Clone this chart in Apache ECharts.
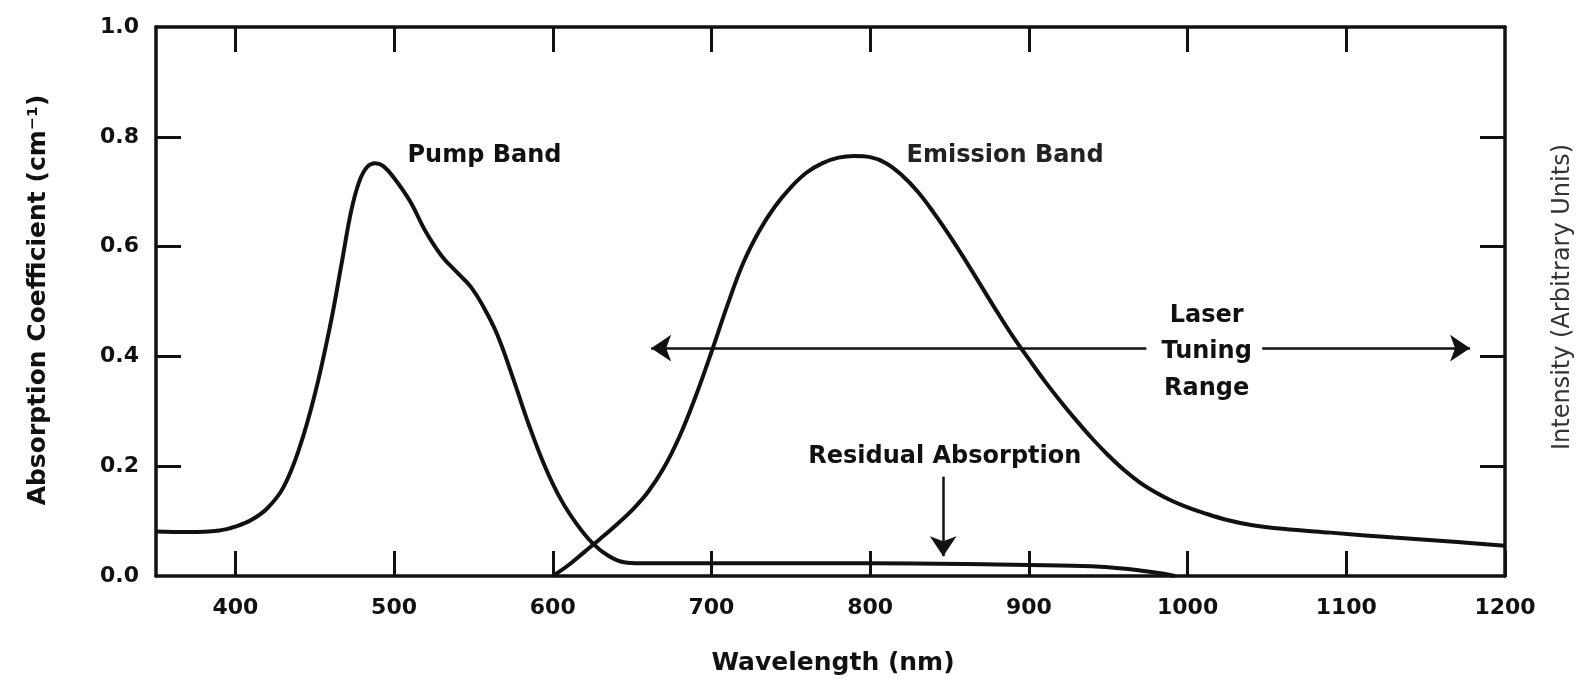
<!DOCTYPE html>
<html>
<head>
<meta charset="utf-8">
<script src="https://cdn.jsdelivr.net/npm/echarts@6/dist/echarts.min.js"></script>
<style>
  html, body { margin: 0; padding: 0; background: #fff; }
  #chart { width: 1580px; height: 683px; }
</style>
</head>
<body>
<div id="chart"></div>
<script>
// ---- data ----
const wavelengthTicks = [400, 500, 600, 700, 800, 900, 1000, 1100, 1200];
const topTicks = [400, 500, 600, 700, 800, 900, 1000, 1100];
const sideTicks = [0.2, 0.4, 0.6, 0.8];

const pumpWavelength = [350, 370, 390, 400, 410, 420, 430, 440, 450, 460, 467, 473, 478, 483, 488, 493, 500, 510, 520, 530, 540, 548, 556, 565, 575, 585, 595, 605, 615, 625, 635, 645, 655, 700, 800, 880, 920, 950, 970, 985, 992];
const pumpAbsorption = [0.081, 0.080, 0.083, 0.090, 0.102, 0.123, 0.160, 0.230, 0.330, 0.460, 0.570, 0.665, 0.718, 0.745, 0.752, 0.747, 0.725, 0.683, 0.627, 0.583, 0.552, 0.528, 0.492, 0.440, 0.360, 0.275, 0.200, 0.140, 0.095, 0.060, 0.037, 0.025, 0.023, 0.023, 0.023, 0.021, 0.019, 0.016, 0.010, 0.004, 0.0];

const emissionWavelength = [600, 610, 620, 630, 640, 650, 660, 670, 680, 690, 700, 710, 720, 730, 740, 750, 760, 770, 780, 790, 800, 810, 820, 830, 840, 850, 860, 870, 880, 890, 900, 910, 920, 930, 940, 950, 960, 970, 980, 990, 1000, 1010, 1025, 1040, 1060, 1090, 1130, 1170, 1200];
const emissionIntensity = [0.0, 0.020, 0.044, 0.068, 0.093, 0.120, 0.153, 0.197, 0.255, 0.327, 0.408, 0.493, 0.570, 0.628, 0.673, 0.708, 0.735, 0.752, 0.762, 0.765, 0.763, 0.752, 0.730, 0.700, 0.662, 0.620, 0.575, 0.528, 0.481, 0.436, 0.395, 0.355, 0.318, 0.283, 0.250, 0.220, 0.193, 0.170, 0.152, 0.137, 0.125, 0.115, 0.102, 0.093, 0.086, 0.079, 0.070, 0.062, 0.055];

const labelTexts = ['Pump Band', 'Emission Band', 'Laser\nTuning\nRange', 'Residual Absorption'];
const xTitle = 'Wavelength (nm)';
const yLeftTitle = 'Absorption Coefficient (cm⁻¹)';
const yRightTitle = 'Intensity (Arbitrary Units)';

// ---- build ----
const zip = (xs, ys) => xs.map((x, i) => [x, ys[i]]);
const INK = '#111111';
const FONT = 'DejaVu Sans';

const chart = echarts.init(document.getElementById('chart'), null, { renderer: 'canvas' });

const tickStyle = { color: INK, width: 3 };
const lineAxis = { show: true, onZero: false, lineStyle: { color: INK, width: 3.5 } };

const annotationLabel = (text, coord, extra) => ({
  coord: coord,
  symbol: 'circle',
  symbolSize: 1,
  itemStyle: { color: 'rgba(0,0,0,0)' },
  label: Object.assign({
    show: true, position: 'inside', formatter: text,
    color: INK, fontFamily: FONT, fontWeight: 'bold', fontSize: 24,
    align: 'center', verticalAlign: 'middle'
  }, extra || {})
});

const option = {
  backgroundColor: '#ffffff',
  animation: false,
  grid: { left: 156, right: 75, top: 27, bottom: 107, containLabel: false, outerBoundsMode: 'none' },
  xAxis: [
    {
      type: 'value', position: 'bottom', min: 350, max: 1200,
      axisLine: lineAxis, splitLine: { show: false },
      axisTick: { show: true, inside: true, length: 25, customValues: wavelengthTicks, lineStyle: tickStyle },
      axisLabel: { show: true, customValues: wavelengthTicks, margin: 21, color: INK, fontFamily: FONT, fontWeight: 'bold', fontSize: 22,
        formatter: v => String(v) }
    },
    {
      type: 'value', position: 'top', min: 350, max: 1200,
      axisLine: lineAxis, splitLine: { show: false },
      axisTick: { show: true, inside: true, length: 25, customValues: topTicks, lineStyle: tickStyle },
      axisLabel: { show: false }
    }
  ],
  yAxis: [
    {
      type: 'value', position: 'left', min: 0, max: 1, interval: 0.2,
      axisLine: lineAxis, splitLine: { show: false },
      axisTick: { show: true, inside: true, length: 25, customValues: sideTicks, lineStyle: tickStyle },
      axisLabel: { show: true, margin: 17, color: INK, fontFamily: FONT, fontWeight: 'bold', fontSize: 22,
        formatter: v => v.toFixed(1) }
    },
    {
      type: 'value', position: 'right', min: 0, max: 1, interval: 0.2,
      axisLine: lineAxis, splitLine: { show: false },
      axisTick: { show: true, inside: true, length: 25, customValues: sideTicks, lineStyle: tickStyle },
      axisLabel: { show: false }
    }
  ],
  series: [
    {
      name: 'Pump Band', type: 'line', xAxisIndex: 0, yAxisIndex: 0,
      data: zip(pumpWavelength, pumpAbsorption),
      showSymbol: false, symbol: 'none', smooth: 0.4,
      lineStyle: { color: INK, width: 4 },
      markPoint: {
        silent: true,
        data: [
          annotationLabel(labelTexts[0], [557, 0.765]),
          annotationLabel(labelTexts[3], [847, 0.217])
        ]
      },
      markLine: {
        silent: true, symbol: ['none', 'arrow'], symbolSize: 20,
        label: { show: false },
        lineStyle: { color: INK, width: 2.5, type: 'solid' },
        data: [
          [{ coord: [846, 0.181] }, { coord: [846, 0.036] }]
        ]
      }
    },
    {
      name: 'Emission Band', type: 'line', xAxisIndex: 0, yAxisIndex: 0,
      data: zip(emissionWavelength, emissionIntensity),
      showSymbol: false, symbol: 'none', smooth: 0.4,
      lineStyle: { color: INK, width: 4 },
      markPoint: {
        silent: true,
        data: [
          annotationLabel(labelTexts[1], [885, 0.765], { color: '#222' }),
          annotationLabel(labelTexts[2], [1012, 0.408], { lineHeight: 36.5 })
        ]
      },
      markLine: {
        silent: true, symbol: ['none', 'arrow'], symbolSize: 20,
        label: { show: false },
        lineStyle: { color: INK, width: 2.5, type: 'solid' },
        data: [
          [{ coord: [974, 0.415] }, { coord: [662, 0.415] }],
          [{ coord: [1047, 0.415] }, { coord: [1178, 0.415] }]
        ]
      }
    }
  ],
  graphic: [
    { type: 'text', x: 833, y: 663, silent: true,
      style: { text: xTitle, fill: INK, font: 'bold 25px "DejaVu Sans"', textAlign: 'center', textVerticalAlign: 'middle' } },
    { type: 'text', x: 38, y: 300, rotation: Math.PI / 2, silent: true,
      style: { text: yLeftTitle, fill: INK, font: 'bold 25px "DejaVu Sans"', textAlign: 'center', textVerticalAlign: 'middle' } },
    { type: 'text', x: 1563, y: 297, rotation: Math.PI / 2, silent: true,
      style: { text: yRightTitle, fill: '#333', font: '24px "DejaVu Sans"', textAlign: 'center', textVerticalAlign: 'middle' } }
  ]
};

chart.setOption(option);
</script>
</body>
</html>
